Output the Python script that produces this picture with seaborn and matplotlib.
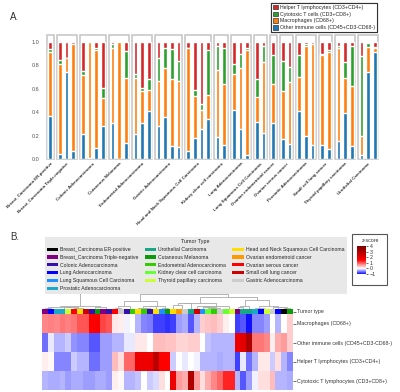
import numpy as np
import matplotlib
matplotlib.use("Agg")
import matplotlib.pyplot as plt
from matplotlib.colors import LinearSegmentedColormap, ListedColormap
from matplotlib.patches import Patch, Rectangle
import seaborn as sns

sns.set_style("white")
plt.rcParams['font.family'] = ['Liberation Sans', 'DejaVu Sans']

GREY = "#555555"
BOX = "#c4c4c4"

# ===============================
# Panel A data – immune cell fractions per sample
# ===============================
group_names = [
    "Breast_Carcinoma ER-positive", "Breast_Carcinoma Triple-negative",
    "Colonic Adenocarcinoma", "Cutaneous Melanoma", "Endometrial Adenocarcinoma",
    "Gastric Adenocarcinoma", "Head and Neck Squamous Cell Carcinoma",
    "Kidney clear cell carcinoma", "Lung Adenocarcinoma",
    "Lung Squamous Cell Carcinoma", "Ovarian endometrioid cancer",
    "Ovarian serous cancer", "Prostatic Adenocarcinoma", "Small cell lung cancer",
    "Thyroid papillary carcinoma", "Urothelial Carcinoma",
]
group_sizes = [1, 3, 4, 3, 3, 4, 4, 2, 3, 2, 1, 2, 3, 2, 3, 3]

other_cells = [0.37, 0.04, 0.74, 0.065, 0.21, 0.01, 0.09, 0.28, 0.31, 0.0, 0.135,
               0.21, 0.31, 0.41, 0.28, 0.355, 0.11, 0.10, 0.07, 0.18, 0.255, 0.34,
               0.19, 0.12, 0.42, 0.26, 0.035, 0.32, 0.22, 0.31, 0.17, 0.13, 0.41,
               0.20, 0.12, 0.12, 0.085, 0.155, 0.39, 0.11, 0.035, 0.74, 0.915]
macrophages = [0.545, 0.77, 0.125, 0.915, 0.51, 0.99, 0.84, 0.24, 0.64, 1.0, 0.555,
               0.48, 0.27, 0.18, 0.385, 0.425, 0.57, 0.565, 0.88, 0.36, 0.165, 0.205,
               0.575, 0.525, 0.31, 0.52, 0.90, 0.21, 0.61, 0.335, 0.41, 0.53, 0.29,
               0.77, 0.86, 0.765, 0.83, 0.79, 0.305, 0.51, 0.165, 0.215, 0.03]
cytotoxic = [0.025, 0.04, 0.0, 0.0, 0.03, 0.0, 0.02, 0.09, 0.03, 0.0, 0.235,
             0.035, 0.03, 0.09, 0.20, 0.17, 0.26, 0.17, 0.0, 0.05, 0.05, 0.385,
             0.20, 0.30, 0.085, 0.12, 0.015, 0.15, 0.135, 0.24, 0.26, 0.13, 0.19,
             0.01, 0.0, 0.015, 0.015, 0.025, 0.135, 0.345, 0.68, 0.035, 0.015]
helper = [0.06, 0.15, 0.135, 0.02, 0.25, 0.0, 0.05, 0.39, 0.02, 0.0, 0.075,
          0.275, 0.39, 0.32, 0.135, 0.05, 0.06, 0.165, 0.05, 0.41, 0.53, 0.07,
          0.035, 0.055, 0.185, 0.10, 0.05, 0.32, 0.035, 0.115, 0.16, 0.21, 0.11,
          0.02, 0.02, 0.10, 0.07, 0.03, 0.17, 0.035, 0.12, 0.01, 0.04]

cell_labels = ["Helper T lymphocytes (CD3+CD4+)", "Cytotoxic T cells (CD3+CD8+)",
               "Macrophages (CD68+)", "Other immune cells (CD45+CD3-CD68-)"]
cell_colors = ["#d62728", "#2ca02c", "#ff7f0e", "#1f77b4"]

# ===============================
# Panel B data – z-scored heatmap
# ===============================
tumor_types = [
    "Breast_Carcinoma ER-positive", "Breast_Carcinoma Triple-negative",
    "Colonic Adenocarcinoma", "Lung Adenocarcinoma", "Lung Squamous Cell Carcinoma",
    "Prostatic Adenocarcinoma", "Urothelial Carcinoma", "Cutaneous Melanoma",
    "Endometrial Adenocarcinoma", "Kidney clear cell carcinoma",
    "Thyroid papillary carcinoma", "Head and Neck Squamous Cell Carcinoma",
    "Ovarian endometroid cancer", "Ovarian serous cancer", "Small cell lung cancer",
    "Gastric Adenocarcinoma",
]
tumor_colors = ["#000000", "#800080", "#3311aa", "#0000ff", "#1e90ff", "#1ca8c8",
                "#18a888", "#0a9a0a", "#33cc00", "#66ff33", "#ccff33", "#ffdd00",
                "#ff9900", "#ff0000", "#cc0000", "#cccccc"]
column_tumor = [1, 3, 5, 5, 10, 13, 11, 14, 2, 7, 1, 2, 13, 15, 2, 8, 11, 8, 2, 11,
                4, 7, 11, 12, 15, 6, 14, 4, 9, 8, 15, 9, 10, 1, 6, 6, 5, 3, 10, 15,
                3, 0, 7]

row_names = ["Macrophages (CD68+)", "Other immune cells (CD45+CD3-CD68-)",
             "Helper T lymphocytes (CD3+CD4+)", "Cytotoxic T lymphocytes (CD3+CD8+)"]
z_macro = [0.7, 0.75, 0.7, 0.8, 0.75, 0.8, 1.0, 1.0, 1.5, 1.6, 1.1, 1.0, 0.15, 0.1,
           -0.05, 0.0, -0.3, -0.5, -0.55, -0.8, -0.8, -0.85, -0.8, -0.4, -0.35, -0.7,
           -0.3, 0.3, 0.35, 0.4, 0.3, 0.1, 0.0, -0.8, -0.7, -1.0, -0.5, -0.5, -0.4,
           0.0, -0.3, 0.0, 0.3]
z_other = [-0.6, -0.1, -0.3, -0.3, -0.2, -0.45, -0.5, -0.5, -0.7, -0.7, -0.4, -0.4,
           -0.3, -0.3, -0.1, -0.1, 0.15, 0.15, 0.0, 0.4, 0.4, 0.35, 0.35, 0.25, 0.25,
           0.3, 0.3, 0.0, -0.25, -0.3, -0.3, -0.3, -0.3, 1.8, 2.0, 3.0, 0.8, 0.8, 0.7,
           0.1, 0.5, 0.6, 0.3]
z_helper = [0.1, 0.05, -0.5, -0.5, -0.5, -0.2, -0.3, -0.3, -0.6, -0.6, -0.4, -0.4,
            0.4, 0.2, 0.9, 0.9, 1.8, 1.8, 1.8, 2.8, 1.5, 1.5, -0.2, 0.0, -0.1, 0.0,
            -0.05, -0.3, -0.3, -0.3, -0.35, -0.3, -0.3, -0.8, -0.1, -0.6, -0.3, 0.15,
            0.15, -0.2, 0.2, -0.3, -0.5]
z_cyto = [-0.3, -0.35, -0.35, -0.3, -0.4, -0.35, -0.35, -0.4, -0.4, -0.35, -0.35,
          -0.4, 0.1, 0.05, -0.3, -0.3, -0.25, 0.0, -0.2, -0.15, 0.2, 0.0, 1.8, 0.6,
          0.5, 3.0, 0.6, 0.2, 0.5, 0.7, 0.9, 1.3, 1.3, -0.3, -0.7, -0.4, -0.05, 0.2,
          0.2, 0.4, -0.3, -0.3, -0.35]


def adjacent_linkage(X):
    """Ward-like agglomeration that only merges neighbouring clusters (keeps order)."""
    clusters = [{"x": i + 0.5, "h": 0.0, "n": 1, "c": X[i].copy()} for i in range(len(X))]
    segments = []
    while len(clusters) > 1:
        dists = []
        for a, b in zip(clusters[:-1], clusters[1:]):
            w = np.sqrt(a["n"] * b["n"] / (a["n"] + b["n"]))
            dists.append(w * np.linalg.norm(a["c"] - b["c"]))
        i = int(np.argmin(dists))
        a, b = clusters[i], clusters[i + 1]
        h = max(dists[i], a["h"], b["h"]) + 1e-3
        segments.append(([a["x"], a["x"], b["x"], b["x"]], [a["h"], h, h, b["h"]]))
        n = a["n"] + b["n"]
        merged = {"x": (a["x"] + b["x"]) / 2, "h": h, "n": n,
                  "c": (a["c"] * a["n"] + b["c"] * b["n"]) / n}
        clusters[i:i + 2] = [merged]
    return segments


fig = plt.figure(figsize=(4, 3.92), dpi=100)
W, H = 400, 392


def fig_axes(x0, y0, x1, y1):
    return fig.add_axes([x0 / W, 1 - y1 / H, (x1 - x0) / W, (y1 - y0) / H])


# ===============================
# PART A – stacked bars
# ===============================
gap = 0.45
positions, centers, spans = [], [], []
start = 0.0
for size in group_sizes:
    pos = [start + k for k in range(size)]
    positions += pos
    centers.append(np.mean(pos))
    spans.append((pos[0] - 0.5, size))
    start = pos[-1] + 1 + gap
positions = np.array(positions)

layers = np.cumsum(np.vstack([other_cells, macrophages, cytotoxic, helper]), axis=0)

ax = fig_axes(44, 35, 381, 159)
for top, color in zip(layers[::-1], cell_colors):
    sns.barplot(x=positions, y=top, native_scale=True, color=color, saturation=1,
                width=0.55, errorbar=None, ax=ax)
for left, size in spans:
    ax.add_patch(Rectangle((left, 0), size, 1.06, fill=False, edgecolor=BOX,
                           lw=1.1, clip_on=False, zorder=0))
ax.set_xlim(positions[0] - 0.95, positions[-1] + 0.95)
ax.set_ylim(0, 1.06)
ax.set_yticks(np.arange(0, 1.01, 0.2))
ax.set_yticklabels([f"{v:.1f}" for v in np.arange(0, 1.01, 0.2)])
ax.set_xticks(centers)
ax.set_xticklabels(group_names, rotation=45, ha="right", rotation_mode="anchor",
                   fontsize=3.2, fontweight="bold", color="#333333")
ax.tick_params(axis="x", length=0, pad=2)
ax.tick_params(axis="y", length=2, width=0.5, labelsize=4, colors=GREY, pad=1)
ax.set_xlabel("")
ax.set_ylabel("")
sns.despine(ax=ax, left=True, bottom=True)

handles = [Patch(facecolor=c, edgecolor="#333333", lw=0.5, label=l)
           for l, c in zip(cell_labels, cell_colors)]
leg = fig.legend(handles=handles, loc="upper right", bbox_to_anchor=(380 / W, 1.0),
                 fontsize=3.8, handlelength=0.9, handleheight=0.9, handletextpad=0.4,
                 labelspacing=0.35, borderpad=0.4, fancybox=False, framealpha=1,
                 edgecolor="#333333")
leg.get_frame().set_linewidth(0.8)

fig.text(10 / W, 1 - 17 / H, "A.", fontsize=7, va="center", color="#333333")
fig.text(10 / W, 1 - 237 / H, "B.", fontsize=7, va="center", color="#333333")

# ===============================
# PART B – clustered heatmap
# ===============================
z = np.array([z_macro, z_other, z_helper, z_cyto])
n_cols = z.shape[1]

zcmap = LinearSegmentedColormap.from_list(
    "zscore", [(0.0, "#1010ff"), (0.2, "#ffffff"), (0.5, "#ff0000"), (1.0, "#7a0000")])

ax_dend = fig_axes(42, 291, 293, 309)
for xs, ys in adjacent_linkage(z.T):
    ax_dend.plot(xs, ys, color="#aaaaaa", lw=0.6)
ax_dend.set_xlim(0, n_cols)
ax_dend.set_ylim(0, None)
ax_dend.axis("off")

ax_type = fig_axes(42, 309, 293, 314)
sns.heatmap(np.array([column_tumor]), cmap=ListedColormap(tumor_colors), vmin=-0.5,
            vmax=len(tumor_colors) - 0.5, cbar=False, xticklabels=False,
            yticklabels=["Tumor type"], ax=ax_type)

ax_hm = fig_axes(42, 314, 293, 390)
ax_cb = fig_axes(357, 246, 366, 274)
sns.heatmap(z, cmap=zcmap, vmin=-1, vmax=4, ax=ax_hm, cbar_ax=ax_cb,
            xticklabels=False, yticklabels=row_names)

for a in (ax_type, ax_hm):
    a.yaxis.tick_right()
    a.tick_params(axis="y", length=2, width=0.5, labelsize=3.8, colors="#333333",
                  pad=1, labelrotation=0)

ax_cb.yaxis.set_ticks([-1, 0, 1, 2, 3, 4])
ax_cb.tick_params(length=1.5, width=0.5, labelsize=3.8, colors="#333333", pad=1)
for s in ax_cb.spines.values():
    s.set_visible(False)
fig.patches.append(Rectangle((352 / W, 1 - 285 / H), 35 / W, 51 / H, fill=False,
                             edgecolor="#555555", lw=0.8, transform=fig.transFigure))
fig.text(370 / W, 1 - 240 / H, "z-score", fontsize=3.8, ha="center", va="center",
         color="#333333")

type_handles = [Patch(facecolor=c, edgecolor="none", label=t)
                for t, c in zip(tumor_types, tumor_colors)]
leg2 = fig.legend(handles=type_handles, ncol=3, loc="upper left",
                  bbox_to_anchor=(42 / W, 1 - 234 / H), fontsize=3.7,
                  title="Tumor Type", title_fontsize=3.9, handlelength=2.2,
                  handleheight=0.6, handletextpad=0.4, labelspacing=0.55,
                  columnspacing=1.2, borderpad=0.5, fancybox=False, framealpha=1,
                  facecolor="#e8e8e8", edgecolor="none")
fig.add_artist(leg)

fig.savefig("out.png", dpi=100, facecolor="white")
